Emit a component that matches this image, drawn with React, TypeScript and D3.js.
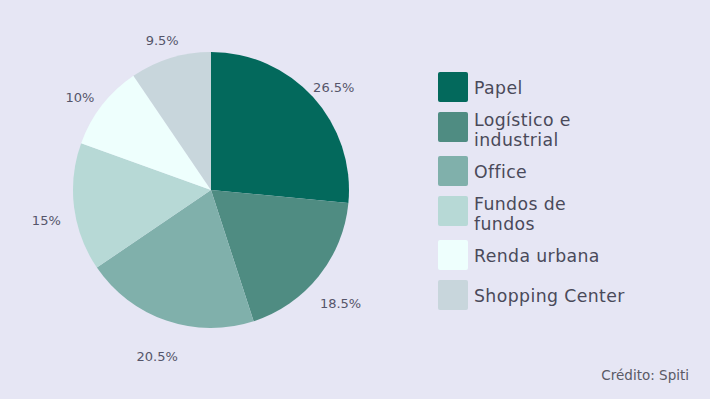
import React from "react";
import * as d3 from "d3";

const categories = ["Papel", "Logístico e industrial", "Office", "Fundos de fundos", "Renda urbana", "Shopping Center"];
const legendLines = [["Papel"], ["Logístico e", "industrial"], ["Office"], ["Fundos de", "fundos"], ["Renda urbana"], ["Shopping Center"]];
const values = [26.5, 18.5, 20.5, 15, 10, 9.5];
const valueLabels = ["26.5%", "18.5%", "20.5%", "15%", "10%", "9.5%"];
const colors = ["#03695c", "#4f8c82", "#80b0ab", "#b7d9d6", "#eefffd", "#c8d6dc"];

const W = 710, H = 399;
const FONT = "'DejaVu Sans', sans-serif";

export default function App() {
  const cx = 211, cy = 190, r = 138;
  const pie = d3.pie<number>().sort(null).value(d => d)(values);
  const arc = d3.arc<d3.PieArcDatum<number>>().innerRadius(0).outerRadius(r);
  const labelR = 166;

  // legend layout
  const lineH = 19.5;
  let y = 72;
  const legendItems = legendLines.map((lines, i) => {
    const h = lines.length > 1 ? 34 : 30;
    const item = { y, lines, i, h };
    y += h + 10;
    return item;
  });

  return (
    <svg width={W} height={H} style={{ position: "fixed", left: 0, top: 0, background: "#e6e6f4" }}>
      <rect width={W} height={H} fill="#e6e6f4" />
      <g transform={`translate(${cx},${cy})`}>
        {pie.map((p, i) => (
          <path key={categories[i]} d={arc(p) || ""} fill={colors[i]} />
        ))}
        {pie.map((p, i) => {
          const a = (p.startAngle + p.endAngle) / 2;
          const x = Math.sin(a) * labelR;
          const yy = -Math.cos(a) * labelR + 9.5;
          return (
            <text key={"l" + i} x={x} y={yy} textAnchor="middle" dominantBaseline="central"
              fontFamily={FONT} fontSize={13} fill="#55556a">{valueLabels[i]}</text>
          );
        })}
      </g>
      <g>
        {legendItems.map(it => (
          <g key={"lg" + it.i}>
            <rect x={438} y={it.y} width={30} height={30} rx={2} fill={colors[it.i]} />
            {it.lines.map((ln, k) => {
              const cyText = it.lines.length > 1 ? it.y + 8 + lineH * k : it.y + 15.5;
              return (
                <text key={k} x={474} y={cyText} dominantBaseline="central"
                  fontFamily={FONT} fontSize={17.3} letterSpacing={0.4} fill="#4a4a5a">{ln}</text>
              );
            })}
          </g>
        ))}
      </g>
      <text x={689} y={380} textAnchor="end" fontFamily={FONT} fontSize={13.5} fill="#5a5a66">Crédito: Spiti</text>
    </svg>
  );
}
